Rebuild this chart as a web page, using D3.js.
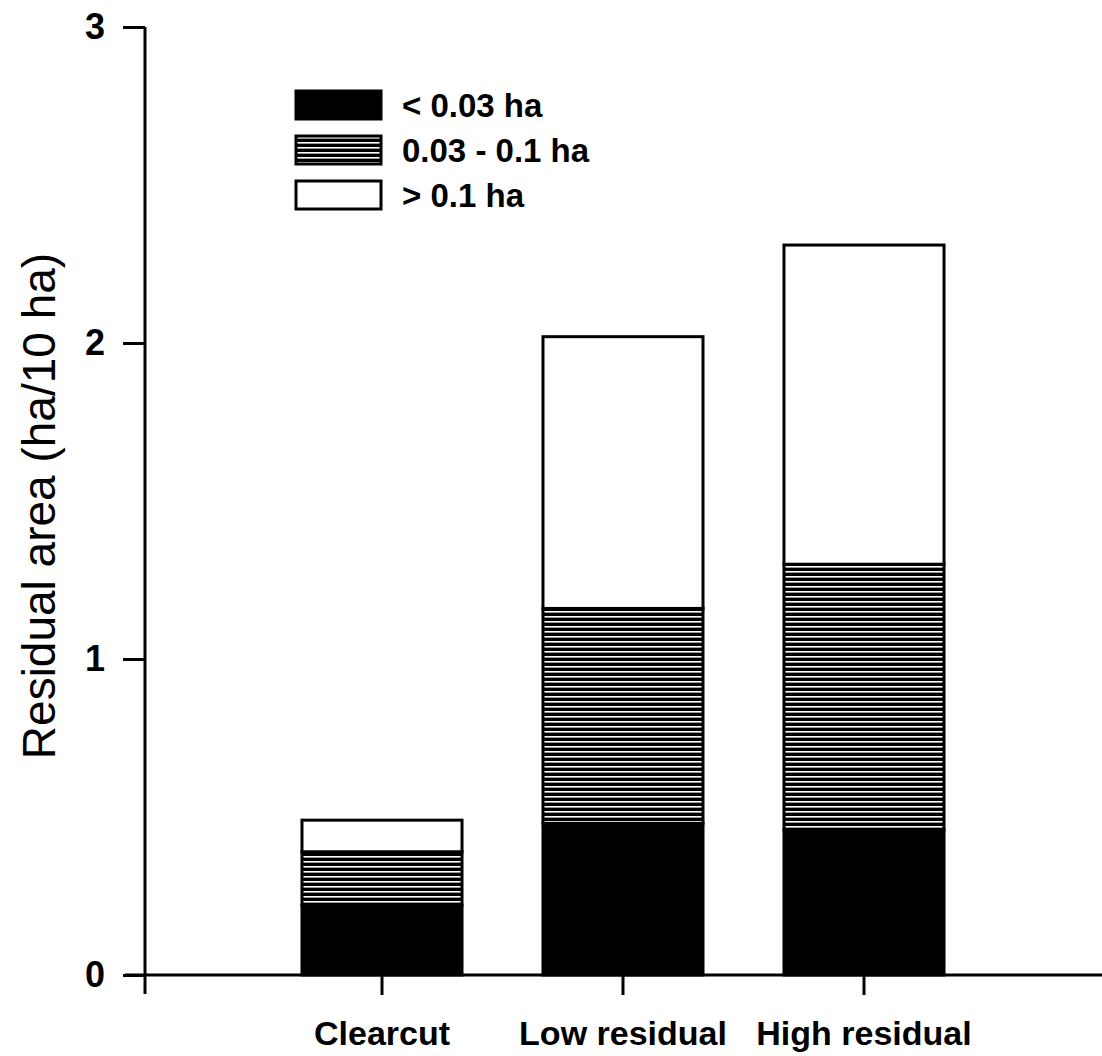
<!DOCTYPE html>
<html>
<head>
<meta charset="utf-8">
<script src="https://cdn.jsdelivr.net/npm/d3@7"></script>
<style>
  body { margin: 0; background: #fff; }
  text { font-family: "Liberation Sans", Arial, sans-serif; }
</style>
</head>
<body>
<div id="chart"></div>
<script>
var width = 1102;
var height = 1056;

// data
var categories = ["Clearcut", "Low residual", "High residual"];
var small = [0.22, 0.48, 0.46];   // < 0.03 ha
var medium = [0.17, 0.68, 0.84];  // 0.03 - 0.1 ha
var large = [0.10, 0.86, 1.01];   // > 0.1 ha
var seriesKeys = ["small", "medium", "large"];
var seriesLabels = ["< 0.03 ha", "0.03 - 0.1 ha", "> 0.1 ha"];
var yTicks = [0, 1, 2, 3];

var rows = categories.map(function(c, i) {
  return { cat: c, small: small[i], medium: medium[i], large: large[i] };
});

var svg = d3.select("#chart")
  .append("svg")
  .attr("width", width)
  .attr("height", height);

// hatch fill: black with thin white horizontal lines
var defs = svg.append("defs");
var pat = defs.append("pattern")
  .attr("id", "hatch")
  .attr("patternUnits", "userSpaceOnUse")
  .attr("width", 8)
  .attr("height", 5);
pat.append("rect").attr("width", 8).attr("height", 5).attr("fill", "#000");
pat.append("rect").attr("y", 1).attr("width", 8).attr("height", 1.6).attr("fill", "#fff");

var fills = { small: "#000", medium: "url(#hatch)", large: "#fff" };

var y = d3.scaleLinear()
  .domain([0, 3])
  .range([975, 27]);

var x = d3.scaleBand()
  .domain(categories)
  .range([261.5, 984.5])
  .paddingInner(0.336)
  .paddingOuter(0.168);

var stacked = d3.stack().keys(seriesKeys)(rows);

// bars
var layer = svg.selectAll("g.layer")
  .data(stacked)
  .enter().append("g")
  .attr("class", "layer")
  .attr("fill", function(d) { return fills[d.key]; });

layer.selectAll("rect")
  .data(function(d) { return d; })
  .enter().append("rect")
  .attr("x", function(d) { return x(d.data.cat); })
  .attr("y", function(d) { return y(d[1]); })
  .attr("width", x.bandwidth())
  .attr("height", function(d) { return y(d[0]) - y(d[1]); })
  .attr("stroke", "#000")
  .attr("stroke-width", 3);

// y axis
var yAxis = d3.axisLeft(y)
  .tickValues(yTicks)
  .tickFormat(d3.format("d"))
  .tickSize(22)
  .tickPadding(18);

var gy = svg.append("g")
  .attr("transform", "translate(145,0)")
  .call(yAxis);
gy.select(".domain").remove();
gy.append("line")
  .attr("x1", 0).attr("x2", 0)
  .attr("y1", y(3)).attr("y2", 994)
  .attr("stroke", "#000").attr("stroke-width", 3);
gy.selectAll(".tick line").attr("stroke-width", 3);
gy.selectAll(".tick text")
  .attr("font-size", 36)
  .attr("font-weight", "bold")
  .attr("fill", "#000");

// x axis
var xAxis = d3.axisBottom(x)
  .tickSize(20)
  .tickPadding(26);

var gx = svg.append("g")
  .attr("transform", "translate(0,975)")
  .call(xAxis);
gx.select(".domain").remove();
gx.append("line")
  .attr("x1", 125).attr("x2", width)
  .attr("y1", 0).attr("y2", 0)
  .attr("stroke", "#000").attr("stroke-width", 3);
gx.selectAll(".tick line").attr("stroke-width", 3);
gx.selectAll(".tick text")
  .attr("font-size", 34)
  .attr("font-weight", "bold")
  .attr("fill", "#000");

// y label
svg.append("text")
  .attr("transform", "translate(55,506) rotate(-90)")
  .attr("text-anchor", "middle")
  .attr("font-size", 46)
  .text("Residual area (ha/10 ha)");

// legend
var legend = svg.selectAll("g.legend")
  .data(seriesKeys)
  .enter().append("g")
  .attr("class", "legend")
  .attr("transform", function(d, i) { return "translate(296," + (91 + i * 45) + ")"; });

legend.append("rect")
  .attr("width", 85)
  .attr("height", 28)
  .attr("fill", function(d) { return fills[d]; })
  .attr("stroke", "#000")
  .attr("stroke-width", 3);

legend.append("text")
  .attr("x", 106)
  .attr("y", 14)
  .attr("dy", "0.36em")
  .attr("font-size", 33)
  .attr("font-weight", "bold")
  .text(function(d, i) { return seriesLabels[i]; });
</script>
</body>
</html>
